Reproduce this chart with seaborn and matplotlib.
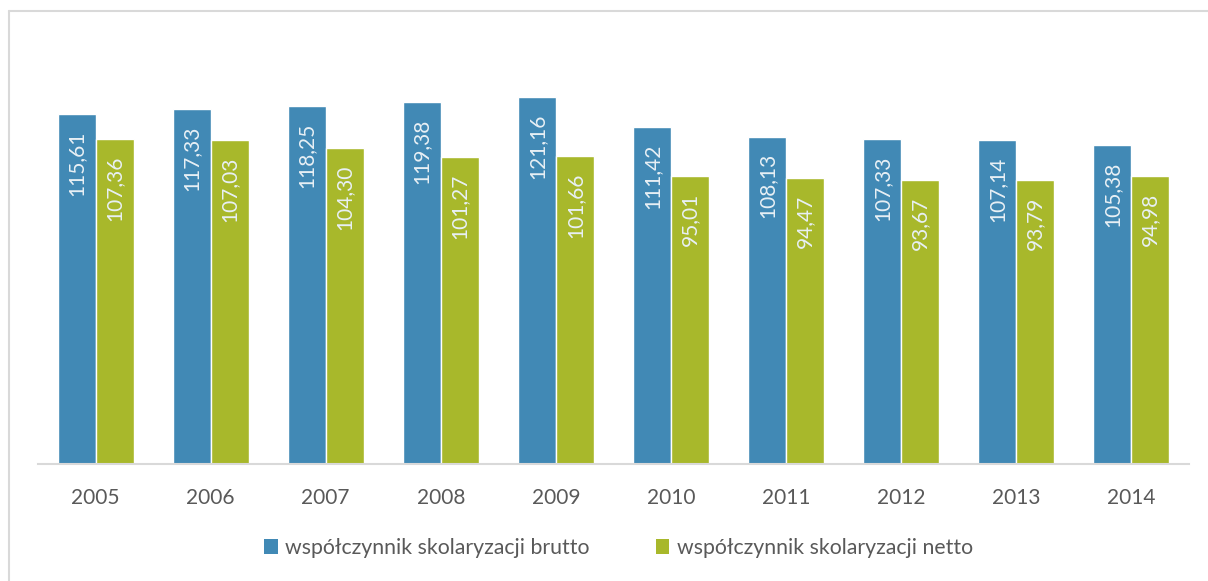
import pandas as pd
import seaborn as sns
import matplotlib.pyplot as plt
from matplotlib.lines import Line2D
from matplotlib.patches import Patch

years = ['2005', '2006', '2007', '2008', '2009', '2010', '2011', '2012', '2013', '2014']
brutto = [115.61, 117.33, 118.25, 119.38, 121.16, 111.42, 108.13, 107.33, 107.14, 105.38]
netto = [107.36, 107.03, 104.30, 101.27, 101.66, 95.01, 94.47, 93.67, 93.79, 94.98]
series_names = ['współczynnik skolaryzacji brutto', 'współczynnik skolaryzacji netto']

df = pd.DataFrame({
    'rok': years * 2,
    'wartosc': brutto + netto,
    'seria': [series_names[0]] * len(years) + [series_names[1]] * len(years),
})

blue = '#4189b5'
green = '#a8b82b'
text_gray = '#595959'

sns.set_style('white')
plt.rcParams['font.family'] = ['Lato', 'DejaVu Sans']

fig = plt.figure(figsize=(12.08, 5.81), dpi=100)
ax = fig.add_axes([38 / 1208, 1 - 464 / 581, (1189 - 38) / 1208, (464 - 40) / 581])

sns.barplot(data=df, x='rok', y='wartosc', hue='seria', palette=[blue, green],
            saturation=1, width=0.66, edgecolor='white', linewidth=1,
            legend=False, ax=ax)

ax.set_ylim(0, 140)
ax.set_xlabel('')
ax.set_ylabel('')
ax.set_yticks([])
for s in ['top', 'right', 'left']:
    ax.spines[s].set_visible(False)
ax.spines['bottom'].set_color('#d9d9d9')
ax.spines['bottom'].set_linewidth(1.5)
ax.tick_params(axis='x', length=0, pad=17, labelsize=15, labelcolor=text_gray)

# value labels inside bars, rotated
for cont in ax.containers:
    for bar in cont:
        h = bar.get_height()
        ax.annotate(f'{h:.2f}'.replace('.', ','),
                    xy=(bar.get_x() + bar.get_width() / 2, h),
                    xytext=(0, -12), textcoords='offset points',
                    rotation=90, ha='center', va='top',
                    fontsize=15, color='#e8f0f5')

handles = [Patch(facecolor=blue, edgecolor='none'), Patch(facecolor=green, edgecolor='none')]
fig.legend(handles, series_names, loc='center', bbox_to_anchor=(0.512, 1 - 548 / 581),
           ncol=2, frameon=False, fontsize=15.3, labelcolor=text_gray,
           handlelength=0.65, handleheight=0.65, handletextpad=0.35, columnspacing=3.1)

# chart frame (only left and top edges visible)
fig.add_artist(Line2D([8.5 / 1208, 8.5 / 1208], [0, 1 - 11 / 581], color='#d9d9d9', lw=1.5))
fig.add_artist(Line2D([8.5 / 1208, 1], [1 - 11 / 581, 1 - 11 / 581], color='#d9d9d9', lw=1.5))

fig.savefig('out.png', dpi=100)
